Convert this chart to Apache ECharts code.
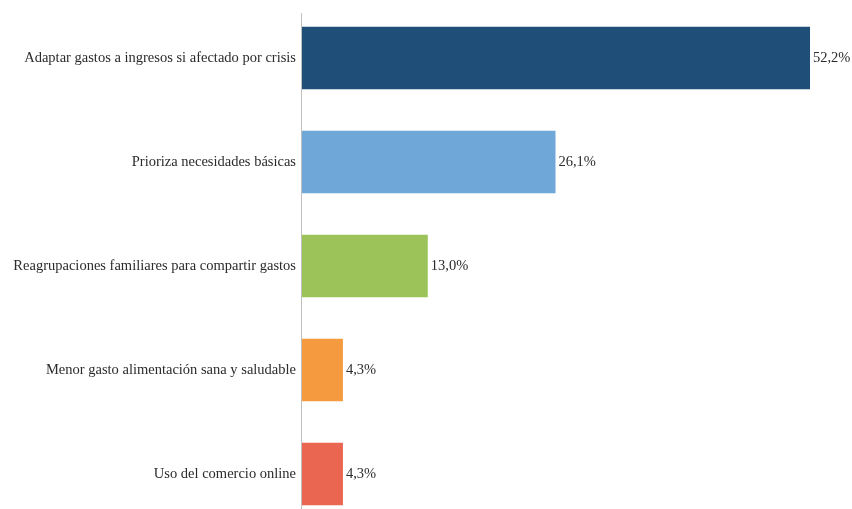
<!DOCTYPE html>
<html>
<head>
<meta charset="utf-8">
<script src="https://cdn.jsdelivr.net/npm/echarts@6/dist/echarts.min.js"></script>
<style>html,body{margin:0;padding:0;background:#fff}#c{width:852px;height:509px}</style>
</head>
<body>
<div id="c"></div>
<script>
const categories = [
  "Adaptar gastos a ingresos si afectado por crisis",
  "Prioriza necesidades básicas",
  "Reagrupaciones familiares para compartir gastos",
  "Menor gasto alimentación sana y saludable",
  "Uso del comercio online"
];
const values = [52.2, 26.1, 13.0, 4.3, 4.3];
const colors = ["#1F4E79", "#6FA7D8", "#9BC35A", "#F59A3F", "#EB6650"];

const chart = echarts.init(document.getElementById('c'), null, {renderer: 'canvas'});
const font = '"Liberation Serif", "DejaVu Serif", serif';
chart.setOption({
  backgroundColor: '#ffffff',
  animation: false,
  grid: {left: 301, top: 6, height: 520, width: 536.3, containLabel: false, outerBoundsMode: 'none'},
  xAxis: {
    type: 'value', min: 0, max: 55, show: false
  },
  yAxis: {
    type: 'category', data: categories, inverse: true,
    axisLine: {show: false},
    axisTick: {show: false},
    axisLabel: {color: '#2b2b2b', fontSize: 14.5, fontFamily: font, margin: 5}
  },
  graphic: [{
    type: 'line', z: 10,
    shape: {x1: 301.5, y1: 13, x2: 301.5, y2: 509},
    style: {stroke: '#BFBFBF', lineWidth: 1}
  }],
  series: [{
    type: 'bar',
    data: values.map((v, i) => ({value: v, itemStyle: {color: colors[i]}})),
    barCategoryGap: '40%',
    label: {
      show: true, position: 'right', distance: 3,
      color: '#2b2b2b', fontSize: 14.5, fontFamily: font,
      formatter: p => p.value.toFixed(1).replace('.', ',') + '%'
    }
  }]
});
</script>
</body>
</html>
